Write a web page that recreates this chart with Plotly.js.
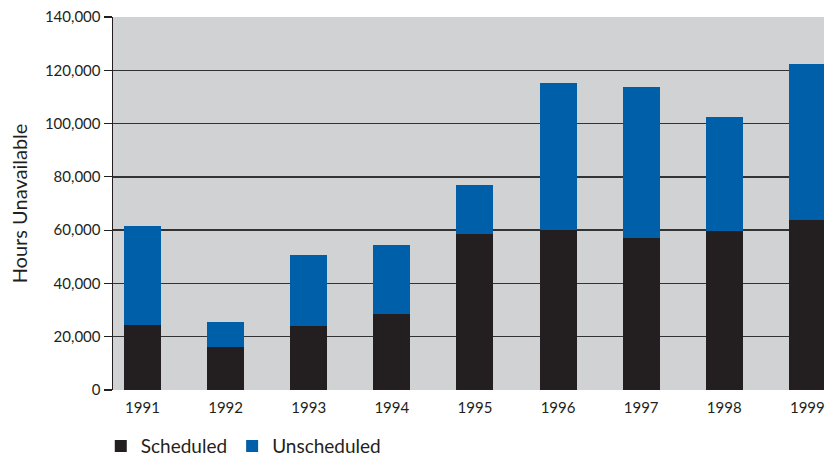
<!DOCTYPE html>
<html>
<head>
<meta charset="utf-8">
<script src="https://cdn.plot.ly/plotly-3.0.1.min.js"></script>
<style>html,body{margin:0;padding:0;background:#fff;}#chart{width:826px;height:457px;}</style>
</head>
<body>
<div id="chart"></div>
<script>
const years = ["1991","1992","1993","1994","1995","1996","1997","1998","1999"];
const scheduled = [24400, 16100, 24000, 28500, 58400, 60000, 56900, 59600, 63700];
const totals = [61600, 25500, 50700, 54300, 77000, 115200, 113700, 102500, 122400];
const unscheduled = totals.map((t, i) => t - scheduled[i]);
const yTicks = [0, 20000, 40000, 60000, 80000, 100000, 120000, 140000];

const font = "Lato, 'Open Sans', sans-serif";
const data = [
  {type: "bar", name: "Scheduled", x: years, y: scheduled, marker: {color: "#231f20"}, width: 0.446},
  {type: "bar", name: "Unscheduled", x: years, y: unscheduled, marker: {color: "#005fa9"}, width: 0.446}
];
const layout = {
  width: 826, height: 457,
  margin: {l: 113, r: 2, t: 17, b: 67, autoexpand: false},
  barmode: "stack",
  plot_bgcolor: "#d1d2d4",
  paper_bgcolor: "#ffffff",
  font: {family: font, size: 15, color: "#231f20"},
  showlegend: true,
  legend: {orientation: "h", x: 0.122, xref: "container", xanchor: "left",
           y: 0.024, yref: "container", yanchor: "middle",
           font: {size: 19}, traceorder: "normal", itemwidth: 30},
  xaxis: {type: "category", range: [-0.355, 8.2], showgrid: false, ticks: "",
          showline: false, zeroline: false, tickfont: {size: 15}, ticklabelstandoff: 7},
  yaxis: {range: [0, 140000], tickvals: yTicks, tickformat: ",d", showgrid: true,
          gridcolor: "#333333", gridwidth: 1.5, showline: true, linecolor: "#231f20", linewidth: 1.5,
          ticks: "outside", ticklen: 8, tickcolor: "#231f20", tickwidth: 1.2, zeroline: false,
          tickfont: {size: 15},
          title: {text: "Hours Unavailable", font: {size: 20}, standoff: 12}}
};
Plotly.newPlot("chart", data, layout, {displayModeBar: false, staticPlot: true});
</script>
</body>
</html>
